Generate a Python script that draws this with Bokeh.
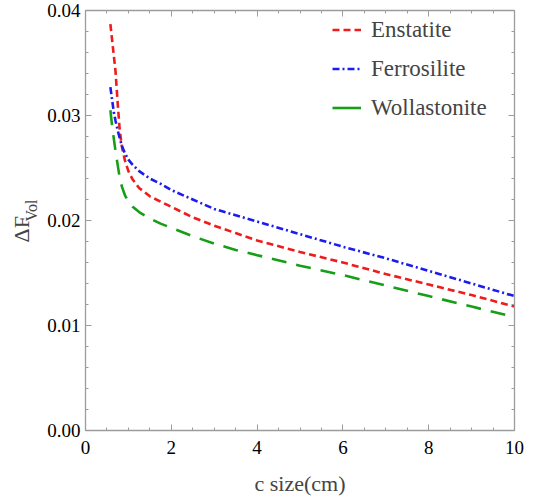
import math
from bokeh.plotting import figure
from bokeh.models import (Range1d, LinearAxis, FixedTicker, NumeralTickFormatter,
                          CustomJSTickFormatter, Legend, LegendItem, Title, ColumnDataSource)
from bokeh.embed import file_html
from bokeh.resources import INLINE

# ---- data ----
c_size = [0.58, 0.62, 0.66, 0.70, 0.75, 0.80, 0.85, 0.92, 1.0, 1.1, 1.25, 1.5, 1.75,
          2.0, 2.5, 3.0, 3.5, 4.0, 5.0, 6.0, 7.0, 8.0, 9.0, 10.0]
enstatite = [0.0387, 0.0372, 0.0357, 0.0342, 0.0312, 0.0285, 0.0270, 0.0257, 0.0247,
             0.0239, 0.0231, 0.0223, 0.0218, 0.0213, 0.0203, 0.0195, 0.0188, 0.0181,
             0.0170, 0.0160, 0.0149, 0.0139, 0.0129, 0.0118]
ferrosilite = [0.0327, 0.0315, 0.0303, 0.0295, 0.0286, 0.0278, 0.0271, 0.0264, 0.0258,
               0.0253, 0.0247, 0.0240, 0.0235, 0.0229, 0.0220, 0.0211, 0.0205, 0.0199,
               0.0187, 0.0175, 0.0164, 0.0152, 0.0140, 0.0128]
wollastonite = [0.0305, 0.0290, 0.0278, 0.0266, 0.0253, 0.0240, 0.0232, 0.0224, 0.0218,
                0.0213, 0.0208, 0.0202, 0.0197, 0.0193, 0.0185, 0.0178, 0.0172, 0.0167,
                0.0157, 0.0148, 0.0138, 0.0128, 0.0118, 0.0108]
series_names = ["Enstatite", "Ferrosilite", "Wollastonite"]
x_ticks = [0, 2, 4, 6, 8, 10]
y_ticks = [0.00, 0.01, 0.02, 0.03, 0.04]
x_label = "c size(cm)"
y_label_main = "ΔF"
y_label_sub = "Vol"

FONT = "serif"              # horizontal texts
F_TT = "Liberation Serif"   # rotated y label

AXC = "#9c9c9c"
FW, FH = 429, 420
BL, BR, BT, BB = 85, 22, 10, 67
X0, X1, Y0, Y1 = 0, 10, 0, 0.04

src = ColumnDataSource(dict(x=c_size, en=enstatite, fe=ferrosilite, wo=wollastonite))

p = figure(frame_width=FW, frame_height=FH, output_backend="svg", toolbar_location=None,
           x_range=Range1d(X0, X1), y_range=Range1d(Y0, Y1),
           min_border_left=BL, min_border_right=BR, min_border_top=BT, min_border_bottom=BB,
           background_fill_color="white", border_fill_color="white")
p.outline_line_color = None
p.grid.visible = False

x_minor = [0.5 * i for i in range(21)]
y_minor = [0.002 * i for i in range(21)]


def style(ax):
    ax.axis_line_color = AXC
    ax.axis_line_width = 1.3
    ax.major_tick_line_color = AXC
    ax.minor_tick_line_color = AXC
    ax.major_tick_in = 6
    ax.major_tick_out = 0
    ax.minor_tick_in = 3
    ax.minor_tick_out = 0
    ax.major_label_text_font = FONT
    ax.major_label_text_font_size = "19px"
    ax.major_label_text_color = "black"


xa = p.xaxis[0]
xa.ticker = FixedTicker(ticks=x_ticks, minor_ticks=x_minor)
style(xa)
xa.major_label_standoff = 10
xa.axis_label = x_label
xa.axis_label_text_font = FONT
xa.axis_label_text_font_size = "22px"
xa.axis_label_text_font_style = "normal"
xa.axis_label_standoff = 14

ya = p.yaxis[0]
ya.ticker = FixedTicker(ticks=y_ticks, minor_ticks=y_minor)
ya.formatter = NumeralTickFormatter(format="0.00")
style(ya)
ya.major_label_standoff = 5

empty = CustomJSTickFormatter(code="return ''")
top = LinearAxis(ticker=FixedTicker(ticks=x_ticks, minor_ticks=x_minor), formatter=empty)
style(top)
top.major_label_text_font_size = "0px"
top.major_label_standoff = 0
p.add_layout(top, "above")
right = LinearAxis(ticker=FixedTicker(ticks=y_ticks, minor_ticks=y_minor), formatter=empty)
style(right)
right.major_label_text_font_size = "0px"
right.major_label_standoff = 0
p.add_layout(right, "right")

r_en = p.line("x", "en", source=src, line_color="#ee1c1c", line_width=2.6, line_dash="7 4")
r_fe = p.line("x", "fe", source=src, line_color="#1c1cee", line_width=2.6, line_dash="7 3 2 3")
r_wo = p.line("x", "wo", source=src, line_color="#169f16", line_width=2.6, line_dash="15 10")
# legend proxy for the long-dash series (shown as a solid sample); holds no visible point
proxy_wo = p.line(x=[float("nan")], y=[float("nan")], line_color="#169f16", line_width=2.6)

row_h, pad, sp = 25, 5, 13
legend = Legend(items=[LegendItem(label=series_names[0], renderers=[r_en]),
                       LegendItem(label=series_names[1], renderers=[r_fe]),
                       LegendItem(label=series_names[2], renderers=[proxy_wo])])
legend.label_text_font = FONT
legend.label_text_font_size = "23px"
legend.glyph_width = 29
legend.glyph_height = row_h
legend.label_height = row_h
legend.label_standoff = 10
legend.spacing = sp
legend.padding = pad
legend.margin = 0
legend.border_line_color = None
legend.background_fill_alpha = 0
leg_h = 2 * pad + 3 * row_h + 2 * sp
legend.location = (247, FH + 0.5 - leg_h)
p.add_layout(legend, "center")

# y-axis label: "ΔF" with subscript "Vol" (titles in the left border);
# a negative standoff lets "ΔF" sit under the subscript column, as in the reference
t_sub = Title(text=y_label_sub, align="left", offset=209, standoff=10,
              text_font=F_TT, text_font_size="16px", text_font_style="normal")
t_main = Title(text=y_label_main, align="left", offset=188, standoff=-36,
               text_font=F_TT, text_font_size="22px", text_font_style="normal")
p.add_layout(t_sub, "left")
p.add_layout(t_main, "left")

open("out.html", "w").write(file_html(p, INLINE))
